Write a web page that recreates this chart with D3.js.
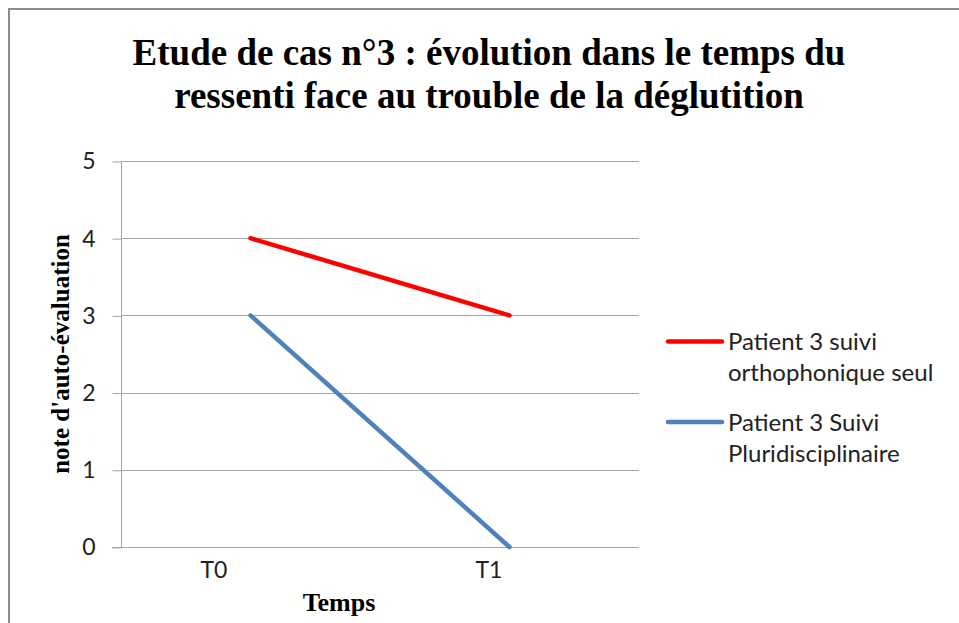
<!DOCTYPE html>
<html>
<head>
<meta charset="utf-8">
<script src="https://cdn.jsdelivr.net/npm/d3@7"></script>
<style>
  html, body { margin: 0; padding: 0; background: #fff; }
  svg { display: block; }
</style>
</head>
<body>
<svg id="chart" width="959" height="623"></svg>
<script>
var categories = ['T0', 'T1'];
var seriesNames = ['Patient 3 suivi orthophonique seul', 'Patient 3 Suivi Pluridisciplinaire'];
var legendLines = [['Patient 3 suivi', 'orthophonique seul'], ['Patient 3 Suivi', 'Pluridisciplinaire']];
var orthoValues = [4, 3];
var pluriValues = [3, 0];
var yTicks = [0, 1, 2, 3, 4, 5];
var seriesColors = ['#ff0000', '#4f81bd'];
var titleLines = ['Etude de cas n\u00b03 : \u00e9volution dans le temps du', 'ressenti face au trouble de la d\u00e9glutition'];

var svg = d3.select('#chart');
var serif = '"Liberation Serif", "Times New Roman", serif';
var sans = 'Lato, "Open Sans", sans-serif';

// chart frame (only top and left edges are visible in the crop)
svg.append('path')
   .attr('d', 'M9,640 L9,9 L970,9')
   .attr('fill', 'none')
   .attr('stroke', '#8c8c8c')
   .attr('stroke-width', 2);

var x = d3.scalePoint().domain(categories).range([121, 639]).padding(0.5);
var xLabel = d3.scalePoint().domain(categories).range([214, 489]);
var y = d3.scaleLinear().domain([0, 5]).range([547, 161]);

// title
svg.append('text')
   .attr('x', 489)
   .attr('y', 65)
   .style('font-family', serif)
   .style('font-weight', 'bold')
   .style('font-size', '37px')
   .style('text-anchor', 'middle')
   .selectAll('tspan')
   .data(titleLines)
   .enter()
   .append('tspan')
   .attr('x', 489)
   .attr('dy', (d, i) => i ? 43 : 0)
   .text(d => d);

// gridlines
svg.append('g')
   .selectAll('line')
   .data(yTicks.filter(d => d > 0))
   .enter()
   .append('line')
   .attr('x1', 121).attr('x2', 639)
   .attr('y1', d => Math.round(y(d)) + 0.5)
   .attr('y2', d => Math.round(y(d)) + 0.5)
   .attr('stroke', '#a6a6a6');

// y axis
var yAxis = svg.append('g')
   .attr('transform', 'translate(121.5,0.5)')
   .call(d3.axisLeft(y).tickValues(yTicks).tickSize(9).tickPadding(17).tickFormat(d3.format('d')));
yAxis.select('.domain').attr('stroke', '#a6a6a6').attr('d', 'M0,' + Math.round(y(5)) + 'V' + Math.round(y(0)));
yAxis.selectAll('.tick line').attr('stroke', '#a6a6a6');
yAxis.selectAll('.tick text')
     .style('font-family', sans)
     .style('font-size', '23px')
     .attr('fill', '#222');

// x axis line
svg.append('line')
   .attr('x1', 112).attr('x2', 639)
   .attr('y1', Math.round(y(0)) + 0.5).attr('y2', Math.round(y(0)) + 0.5)
   .attr('stroke', '#a6a6a6');

svg.append('g')
   .selectAll('text')
   .data(categories)
   .enter()
   .append('text')
   .attr('x', d => xLabel(d))
   .attr('y', 578)
   .style('font-family', sans)
   .style('font-size', '23px')
   .style('text-anchor', 'middle')
   .attr('fill', '#222')
   .text(d => d);

// axis titles
svg.append('text')
   .attr('x', 339)
   .attr('y', 611)
   .style('font-family', serif)
   .style('font-weight', 'bold')
   .style('font-size', '26px')
   .style('text-anchor', 'middle')
   .text('Temps');

svg.append('text')
   .attr('transform', 'translate(69,' + ((y(0) + y(5)) / 2) + ') rotate(-90)')
   .style('font-family', serif)
   .style('font-weight', 'bold')
   .style('font-size', '25px')
   .style('text-anchor', 'middle')
   .text('note d\'auto-\u00e9valuation');

// series
var series = [orthoValues, pluriValues];
var line = d3.line()
   .x((d, i) => x(categories[i]))
   .y(d => y(d));

svg.append('g')
   .selectAll('path')
   .data(series)
   .enter()
   .append('path')
   .attr('d', d => line(d))
   .attr('fill', 'none')
   .attr('stroke', (d, i) => seriesColors[i])
   .attr('stroke-width', 4.5)
   .attr('stroke-linecap', 'round');

// legend
svg.append('g')
   .selectAll('g')
   .data(seriesNames)
   .enter()
   .append('g')
   .attr('transform', (d, i) => 'translate(668,' + (341.5 + i * 80.5) + ')')
   .each(function(d, i){
      d3.select(this).append('line')
        .attr('x1', 0).attr('x2', 54)
        .attr('stroke', seriesColors[i])
        .attr('stroke-width', 4.5)
        .attr('stroke-linecap', 'round');
      d3.select(this).append('text')
        .style('font-family', sans)
        .style('font-size', '24px')
        .attr('fill', '#222')
        .selectAll('tspan')
        .data(legendLines[i])
        .enter()
        .append('tspan')
        .attr('x', 60)
        .attr('y', (t, j) => 8.5 + j * 31)
        .text(t => t);
   });
</script>
</body>
</html>
